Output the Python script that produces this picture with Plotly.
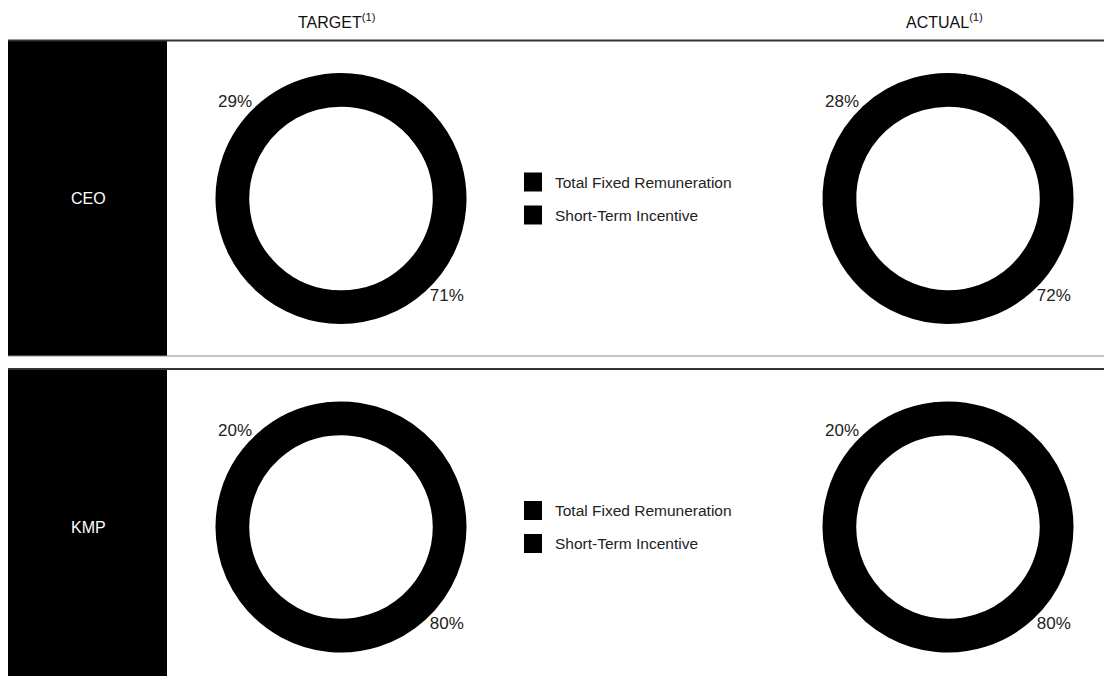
import plotly.graph_objects as go

# ---------------- data ----------------
ROWS = ["CEO", "KMP"]
COLUMNS = ["TARGET", "ACTUAL"]
COMPONENTS = ["Total Fixed Remuneration", "Short-Term Incentive"]
COMPONENT_COLORS = ["#000000", "#000000"]

CEO_TARGET = [71, 29]
CEO_ACTUAL = [72, 28]
KMP_TARGET = [80, 20]
KMP_ACTUAL = [80, 20]

# ---------------- layout constants (pixels) ----------------
W, H = 1104, 676
FONT = "Liberation Sans, Arial, Helvetica, sans-serif"
COL_CX = [341, 948]
ROW_CY = [198.5, 527]
ROW_TOP = [40.5, 369]
ROW_BOT = [356, 676]
R = 124.5
HOLE = 0.745


def fx(px):
    return px / W


def fy(py):
    return 1 - py / H


fig = go.Figure()

series = {("CEO", "TARGET"): CEO_TARGET, ("CEO", "ACTUAL"): CEO_ACTUAL,
          ("KMP", "TARGET"): KMP_TARGET, ("KMP", "ACTUAL"): KMP_ACTUAL}

for ri, row in enumerate(ROWS):
    for ci, col in enumerate(COLUMNS):
        vals = series[(row, col)]
        share = vals[0] / sum(vals)
        rot = 137.5 - 360 * share / 2  # places the label of the first slice lower-right
        fig.add_trace(go.Pie(
            labels=COMPONENTS,
            values=vals,
            sort=False,
            direction="clockwise",
            rotation=rot,
            hole=HOLE,
            marker=dict(colors=COMPONENT_COLORS, line=dict(color="#000000", width=2)),
            texttemplate="%{value}%",
            textposition="outside",
            outsidetextfont=dict(size=17, color="#222222", family=FONT),
            showlegend=False,
            domain=dict(x=[fx(COL_CX[ci] - R), fx(COL_CX[ci] + R)],
                        y=[fy(ROW_CY[ri] + R), fy(ROW_CY[ri] - R)]),
            name=f"{row} {col}",
        ))

shapes = []
annotations = []

# column headers
for ci, col in enumerate(COLUMNS):
    annotations.append(dict(x=COL_CX[ci] - 4, y=21, xref="x", yref="y",
                            text=f"{col}<sup>(1)</sup>", showarrow=False,
                            font=dict(size=16, color="#111111", family=FONT),
                            xanchor="center", yanchor="middle"))

for ri, row in enumerate(ROWS):
    top, bot = ROW_TOP[ri], ROW_BOT[ri]
    # black side panel
    shapes.append(dict(type="rect", xref="x", yref="y", x0=8, x1=167, y0=top, y1=bot,
                       fillcolor="#000000", line=dict(width=0), layer="below"))
    # top rule
    shapes.append(dict(type="line", xref="x", yref="y", x0=8, x1=W, y0=top, y1=top,
                       line=dict(color="#333333", width=2)))
    annotations.append(dict(x=88, y=ROW_CY[ri], xref="x", yref="y", text=row,
                            showarrow=False, font=dict(size=16, color="#ffffff", family=FONT),
                            xanchor="center", yanchor="middle"))
    # legend
    for k, comp in enumerate(COMPONENTS):
        ly = ROW_CY[ri] - 16.5 + 33 * k
        shapes.append(dict(type="rect", xref="x", yref="y", x0=524, x1=542,
                           y0=ly - 9.5, y1=ly + 9.5, fillcolor=COMPONENT_COLORS[k],
                           line=dict(width=0)))
        annotations.append(dict(x=553, y=ly, xref="x", yref="y", text=comp,
                                showarrow=False, font=dict(size=15.5, color="#222222", family=FONT),
                                xanchor="left", yanchor="middle"))

# bottom rule of first row
shapes.append(dict(type="line", xref="x", yref="y", x0=8, x1=W, y0=356, y1=356,
                   line=dict(color="#8a8a8a", width=1)))

fig.update_layout(
    width=W, height=H,
    margin=dict(l=0, r=0, t=0, b=0),
    paper_bgcolor="#ffffff", plot_bgcolor="rgba(0,0,0,0)",
    xaxis=dict(range=[0, W], visible=False, fixedrange=True),
    yaxis=dict(range=[H, 0], visible=False, fixedrange=True),
    shapes=shapes, annotations=annotations,
    font=dict(family=FONT),
)

fig.write_html("out.html")
